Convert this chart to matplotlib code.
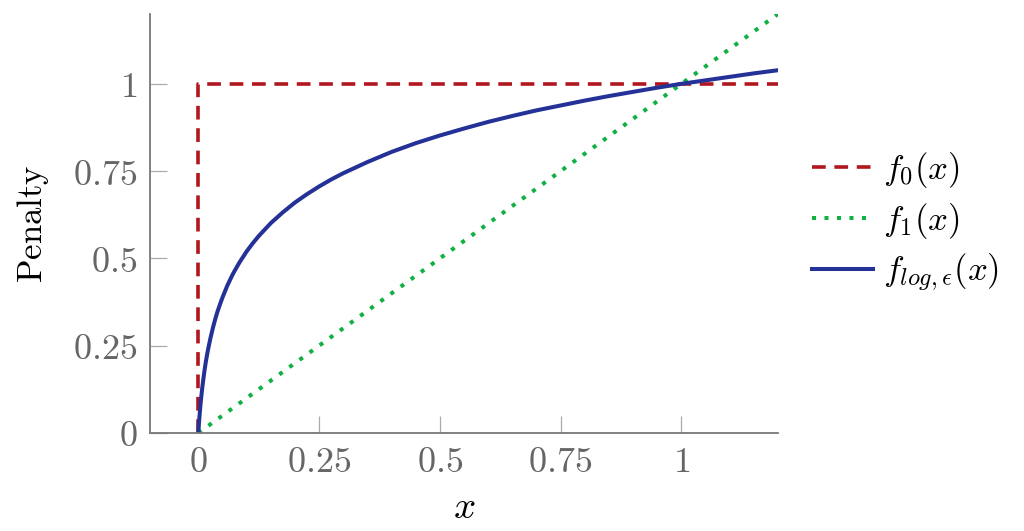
import matplotlib
matplotlib.use("Agg")
import matplotlib.pyplot as plt

plt.rcParams['mathtext.fontset'] = 'cm'
plt.rcParams['font.family'] = ['DejaVu Serif']

# Data
f0_x = [0.0, 0.0, 1.2]
f0_y = [0.0, 1.0, 1.0]
f1_x = [0.0, 1.2]
f1_y = [0.0, 1.2]
flog_x = [0.0, 0.0005, 0.001, 0.0015, 0.002, 0.003, 0.004, 0.005, 0.006, 0.0075, 0.008,
          0.01, 0.0125, 0.015, 0.0175, 0.02, 0.025, 0.03, 0.035, 0.04, 0.045, 0.05,
          0.06, 0.07, 0.075, 0.085, 0.0925, 0.1, 0.1125, 0.125, 0.15, 0.175, 0.2,
          0.225, 0.25, 0.275, 0.3, 0.35, 0.4, 0.45, 0.5, 0.55, 0.6, 0.65, 0.7,
          0.75, 0.8, 0.85, 0.9, 0.95, 1.0, 1.05, 1.1, 1.15, 1.2]
flog_y = [0.0, 0.0106, 0.0207, 0.0303, 0.0395, 0.0569, 0.0729, 0.0879, 0.1018, 0.121, 0.1274,
          0.150, 0.1757, 0.199, 0.2192, 0.238, 0.271, 0.300, 0.326, 0.349, 0.369, 0.388,
          0.422, 0.451, 0.464, 0.488, 0.504, 0.520, 0.543, 0.564, 0.601, 0.632, 0.660,
          0.684, 0.706, 0.726, 0.744, 0.776, 0.805, 0.830, 0.852, 0.872, 0.891, 0.908, 0.924,
          0.938, 0.952, 0.965, 0.977, 0.989, 1.0, 1.010, 1.020, 1.030, 1.039]
xticks = [0, 0.25, 0.5, 0.75, 1]
xtick_labels = ['$0$', '$0.25$', '$0.5$', '$0.75$', '$1$']
yticks = [0, 0.25, 0.5, 0.75, 1]
ytick_labels = ['$0$', '$0.25$', '$0.5$', '$0.75$', '$1$']

fig = plt.figure(figsize=(10.24, 5.31), dpi=100)
ax = fig.add_axes([150/1024, 1-433/531, (778-150)/1024, (433-14)/531])

red = '#b0171f'
green = '#10b043'
blue = '#243196'

ax.plot(f0_x, f0_y, color=red, lw=2.6, linestyle=(0, (3.8, 2.4)), label='$f_0(x)$')
ax.plot(f1_x, f1_y, color=green, lw=2.9, linestyle=(0, (1, 2.1)), label='$f_1(x)$')
ax.plot(flog_x, flog_y, color=blue, lw=2.9, solid_joinstyle='round',
        label='$f_{log,\\epsilon}(x)$')

ax.set_xlim(-0.1, 1.2)
ax.set_ylim(0, 1.2)
ax.set_xticks(xticks)
ax.set_xticklabels(xtick_labels)
ax.set_yticks(yticks)
ax.set_yticklabels(ytick_labels)

for s in ['top', 'right']:
    ax.spines[s].set_visible(False)
for s in ['left', 'bottom']:
    ax.spines[s].set_color('#777777')
    ax.spines[s].set_linewidth(1.3)
ax.tick_params(direction='in', length=12, width=0.9, color='#aaaaaa',
               labelcolor='#666666', labelsize=26, pad=9)

ax.set_xlabel('$x$', fontsize=28, labelpad=7)
ax.set_ylabel('$\\mathrm{Penalty}$', fontsize=25, labelpad=16)

leg = ax.legend(loc='center left', bbox_to_anchor=(1.054, 0.504), frameon=False,
                fontsize=25, handlelength=1.75, handletextpad=0.3, labelspacing=0.32,
                borderpad=0, borderaxespad=0)

fig.savefig('out.png', dpi=100)
